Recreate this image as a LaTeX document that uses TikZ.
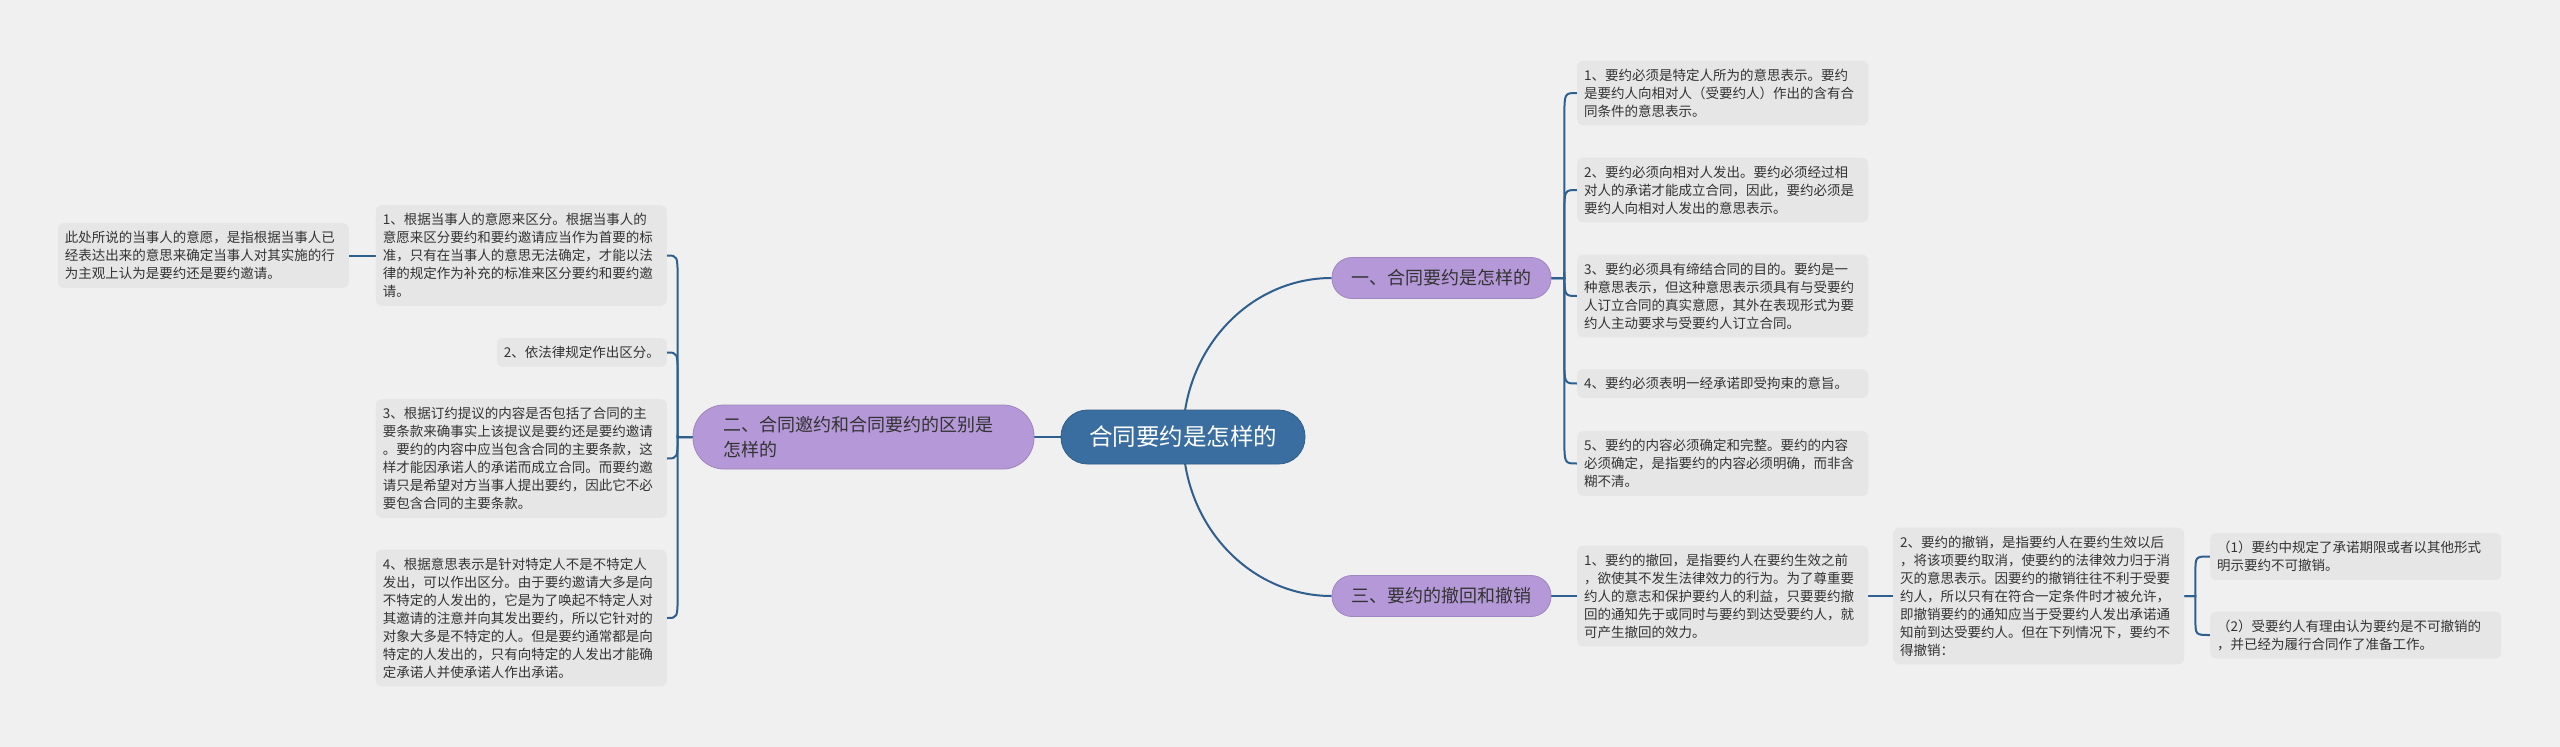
\documentclass[tikz,border=0pt]{standalone}
\usepackage{fontspec}
\usetikzlibrary{calc}
\setmainfont{Noto Sans CJK SC}
\definecolor{bgc}{HTML}{F0F0F0}
\definecolor{leafc}{HTML}{E6E6E6}
\definecolor{rootc}{HTML}{3A6EA0}
\definecolor{branchc}{HTML}{B598D8}
\definecolor{linec}{HTML}{2E5F8E}
\definecolor{txtc}{HTML}{333333}
\pgfdeclarelayer{bglayer}
\pgfsetlayers{bglayer,main}
\tikzset{
  leafbox/.style={fill=leafc, rounded corners=6pt, text=txtc,
    font=\fontsize{13.5}{18}\selectfont, align=left, inner xsep=7pt, inner ysep=8pt},
  leafw/.style={leafbox, text width=277pt},
  rootbox/.style={fill=rootc, draw=rootc!85!black, line width=0.8pt, rounded corners=26.5pt,
    text=white, font=\fontsize{23.5}{28}\selectfont, minimum height=54pt,
    minimum width=244pt, inner sep=0pt},
  branchbox/.style={fill=branchc, draw=branchc!88!black, line width=0.8pt, text=txtc,
    font=\fontsize{18}{25}\selectfont},
  branchone/.style={branchbox, rounded corners=20pt, minimum width=219pt,
    minimum height=41pt, inner sep=0pt},
  conn/.style={draw=linec, line width=2pt},
}
\begin{document}
\begin{tikzpicture}[x=1pt,y=-1pt]
\useasboundingbox (0,0) rectangle (2560,747);
% central and main branches
\node[rootbox] (root) at (1183,437) {合同要约是怎样的};
\node[branchone] (b1) at (1441.5,278) {一、合同要约是怎样的};
\node[branchone] (b3) at (1441.5,596) {三、要约的撤回和撤销};
\node[branchbox, rounded corners=31pt, text width=281pt, align=left,
  inner xsep=30pt, inner ysep=11pt, minimum height=64pt] (b2) at (863.5,437)
  {二、合同邀约和合同要约的区别是\\怎样的};
% right leaves
\node[leafw, anchor=west] (r1) at (1577,93)
  {1、要约必须是特定人所为的意思表示。要约\\是要约人向相对人（受要约人）作出的含有合\\同条件的意思表示。};
\node[leafw, anchor=west] (r2) at (1577,190)
  {2、要约必须向相对人发出。要约必须经过相\\对人的承诺才能成立合同，因此，要约必须是\\要约人向相对人发出的意思表示。};
\node[leafw, anchor=west] (r3) at (1577,296)
  {3、要约必须具有缔结合同的目的。要约是一\\种意思表示，但这种意思表示须具有与受要约\\人订立合同的真实意愿，其外在表现形式为要\\约人主动要求与受要约人订立合同。};
\node[leafw, anchor=west] (r4) at (1577,383.5)
  {4、要约必须表明一经承诺即受拘束的意旨。};
\node[leafw, anchor=west] (r5) at (1577,463.5)
  {5、要约的内容必须确定和完整。要约的内容\\必须确定，是指要约的内容必须明确，而非含\\糊不清。};
% left leaves
\node[leafw, anchor=east] (l1) at (667,255.5)
  {1、根据当事人的意愿来区分。根据当事人的\\意愿来区分要约和要约邀请应当作为首要的标\\准，只有在当事人的意思无法确定，才能以法\\律的规定作为补充的标准来区分要约和要约邀\\请。};
\node[leafbox, anchor=east] (l2) at (667,352.5)
  {2、依法律规定作出区分。};
\node[leafw, anchor=east] (l3) at (667,458.5)
  {3、根据订约提议的内容是否包括了合同的主\\要条款来确事实上该提议是要约还是要约邀请\\。要约的内容中应当包含合同的主要条款，这\\样才能因承诺人的承诺而成立合同。而要约邀\\请只是希望对方当事人提出要约，因此它不必\\要包含合同的主要条款。};
\node[leafw, anchor=east] (l4) at (667,618)
  {4、根据意思表示是针对特定人不是不特定人\\发出，可以作出区分。由于要约邀请大多是向\\不特定的人发出的，它是为了唤起不特定人对\\其邀请的注意并向其发出要约，所以它针对的\\对象大多是不特定的人。但是要约通常都是向\\特定的人发出的，只有向特定的人发出才能确\\定承诺人并使承诺人作出承诺。};
\node[leafw, anchor=east] (cc) at (349,255.5)
  {此处所说的当事人的意愿，是指根据当事人已\\经表达出来的意思来确定当事人对其实施的行\\为主观上认为是要约还是要约邀请。};
% branch three leaves
\node[leafw, anchor=west] (t1) at (1577,596)
  {1、要约的撤回，是指要约人在要约生效之前\\，欲使其不发生法律效力的行为。为了尊重要\\约人的意志和保护要约人的利益，只要要约撤\\回的通知先于或同时与要约到达受要约人，就\\可产生撤回的效力。};
\node[leafw, anchor=west] (t2) at (1893,596)
  {2、要约的撤销，是指要约人在要约生效以后\\，将该项要约取消，使要约的法律效力归于消\\灭的意思表示。因要约的撤销往往不利于受要\\约人，所以只有在符合一定条件时才被允许，\\即撤销要约的通知应当于受要约人发出承诺通\\知前到达受要约人。但在下列情况下，要约不\\得撤销：};
\node[leafw, anchor=west] (s1) at (2210,556.5)
  {（1）要约中规定了承诺期限或者以其他形式\\明示要约不可撤销。};
\node[leafw, anchor=west] (s2) at (2210,635)
  {（2）受要约人有理由认为要约是不可撤销的\\，并已经为履行合同作了准备工作。};
\begin{pgfonlayer}{bglayer}
\fill[bgc] (0,0) rectangle (2560,747);
\draw[conn] (root.center) -- (b2.east);
\draw[conn] (root.center) .. controls +(0,-88) and +(-82,0) .. (b1.west);
\draw[conn] (root.center) .. controls +(0,88) and +(-82,0) .. (b3.west);
% bracket connectors: stub, vertical spine, hook into the leaf
\foreach \leaf in {r1,r2,r3,r4,r5}
  \draw[conn] let \p1=(b1.east), \p2=(\leaf.west), \n1={sign(\y2-\y1)} in
    (\p1) -- ({\x1+13pt},\y1) -- ({\x1+13pt},{\y2-24pt*(\n1)})
    .. controls ({\x1+13pt},\y2) .. (\p2);
\foreach \leaf in {l1,l2,l3,l4}
  \draw[conn] let \p1=(b2.west), \p2=(\leaf.east), \n1={sign(\y2-\y1)} in
    (\p1) -- ({\x1-15pt},\y1) -- ({\x1-15pt},{\y2-24pt*(\n1)})
    .. controls ({\x1-15pt},\y2) .. (\p2);
\foreach \leaf in {s1,s2}
  \draw[conn] let \p1=(t2.east), \p2=(\leaf.west), \n1={sign(\y2-\y1)} in
    (\p1) -- ({\x1+11pt},\y1) -- ({\x1+11pt},{\y2-16pt*(\n1)})
    .. controls ({\x1+11pt},\y2) .. (\p2);
\draw[conn] (cc.east) -- (cc.east -| l1.west);
\draw[conn] (b3.east) -- (t1.west);
\draw[conn] (t1.east) -- (t2.west);
\end{pgfonlayer}
\end{tikzpicture}
\end{document}
